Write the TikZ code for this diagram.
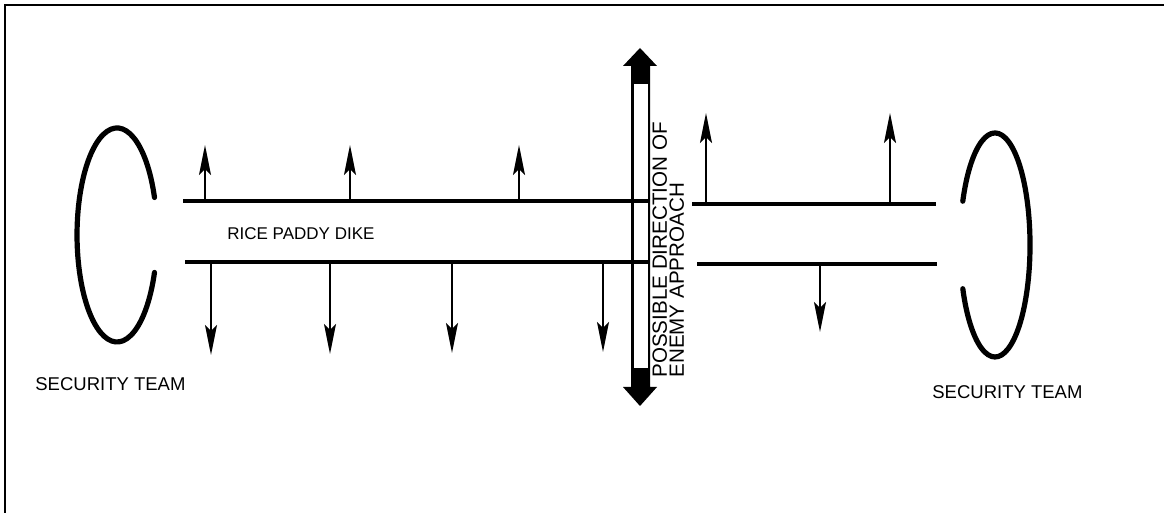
\documentclass[tikz,border=0pt]{standalone}
\usepackage{fontspec}
\setmainfont{Liberation Sans}
\usetikzlibrary{arrows.meta}

\tikzset{
  frameline/.style={line width=1pt},
  dikeline/.style={line width=2pt},
  teamarc/.style={line width=2.6pt, line cap=round},
  fireline/.style={line width=1pt, -{Stealth[length=15pt, width=6pt, inset=3pt]}},
  lbl/.style={inner sep=0pt, font=\fontsize{9.25}{11}\selectfont},
}

\begin{document}
\begin{tikzpicture}[x=0.5pt, y=-0.5pt]
\useasboundingbox (0,0) rectangle (1164,513);

% outer frame (left and top edges)
\coordinate (fbl) at (5,513);
\coordinate (ftl) at (5,5);
\coordinate (ftr) at (1164,5);
\draw[frameline] (fbl) -- (ftl) -- (ftr);

% approach arrow: black double-headed outline with a white slot
\fill (640,48) -- (657,66) -- (650,66) -- (650,387) -- (657,387) -- (640,406)
      -- (623,387) -- (631,387) -- (631,66) -- (623,66) -- cycle;
\fill[white] (633.5,84) rectangle (647.5,368);

% dike edges
\coordinate (tl0) at (183,201);  \coordinate (tl1) at (649,201);
\coordinate (bl0) at (185,262);  \coordinate (bl1) at (649,262);
\coordinate (tr0) at (692,204);  \coordinate (tr1) at (936,204);
\coordinate (br0) at (697,264);  \coordinate (br1) at (937,264);
\draw[dikeline] (tl0) -- (tl1);
\draw[dikeline] (bl0) -- (bl1);
\draw[dikeline] (tr0) -- (tr1);
\draw[dikeline] (br0) -- (br1);

% sectors of fire, north side
\foreach \n/\x/\ya/\yb in {a/205/201/145, b/350/201/145, c/519/201/145, d/706/204/113, e/890/204/113}{
  \coordinate (u\n0) at (\x,\ya);
  \coordinate (u\n1) at (\x,\yb);
  \draw[fireline] (u\n0) -- (u\n1);
}
% sectors of fire, south side
\foreach \n/\x/\ya/\yb in {a/211/262/355, b/330/262/354, c/452/262/353, d/603/262/352, e/820/264/332}{
  \coordinate (d\n0) at (\x,\ya);
  \coordinate (d\n1) at (\x,\yb);
  \draw[fireline] (d\n0) -- (d\n1);
}

% security teams at both ends
\coordinate (lt) at (154.5,197.5);
\draw[teamarc] (lt) arc[start angle=20.5, end angle=339.5, x radius=20pt, y radius=53.5pt];
\coordinate (rt) at (962.8,201.2);
\draw[teamarc] (rt) arc[start angle=157, end angle=-157, x radius=17.5pt, y radius=56pt];

% labels
\node[lbl, anchor=base west] (teamL) at (35,391) {SECURITY TEAM};
\node[lbl, anchor=base west] (teamR) at (932,399) {SECURITY TEAM};
\node[lbl, anchor=base west, font=\fontsize{8.5}{10}\selectfont] (dike) at (227,240) {RICE PADDY DIKE};
\node[inner sep=0pt, rotate=90, anchor=north west, align=left,
      font=\fontsize{10.3}{8.6}\selectfont] (approach) at (652,378)
      {POSSIBLE DIRECTION OF\\ENEMY APPROACH};
\end{tikzpicture}
\end{document}
